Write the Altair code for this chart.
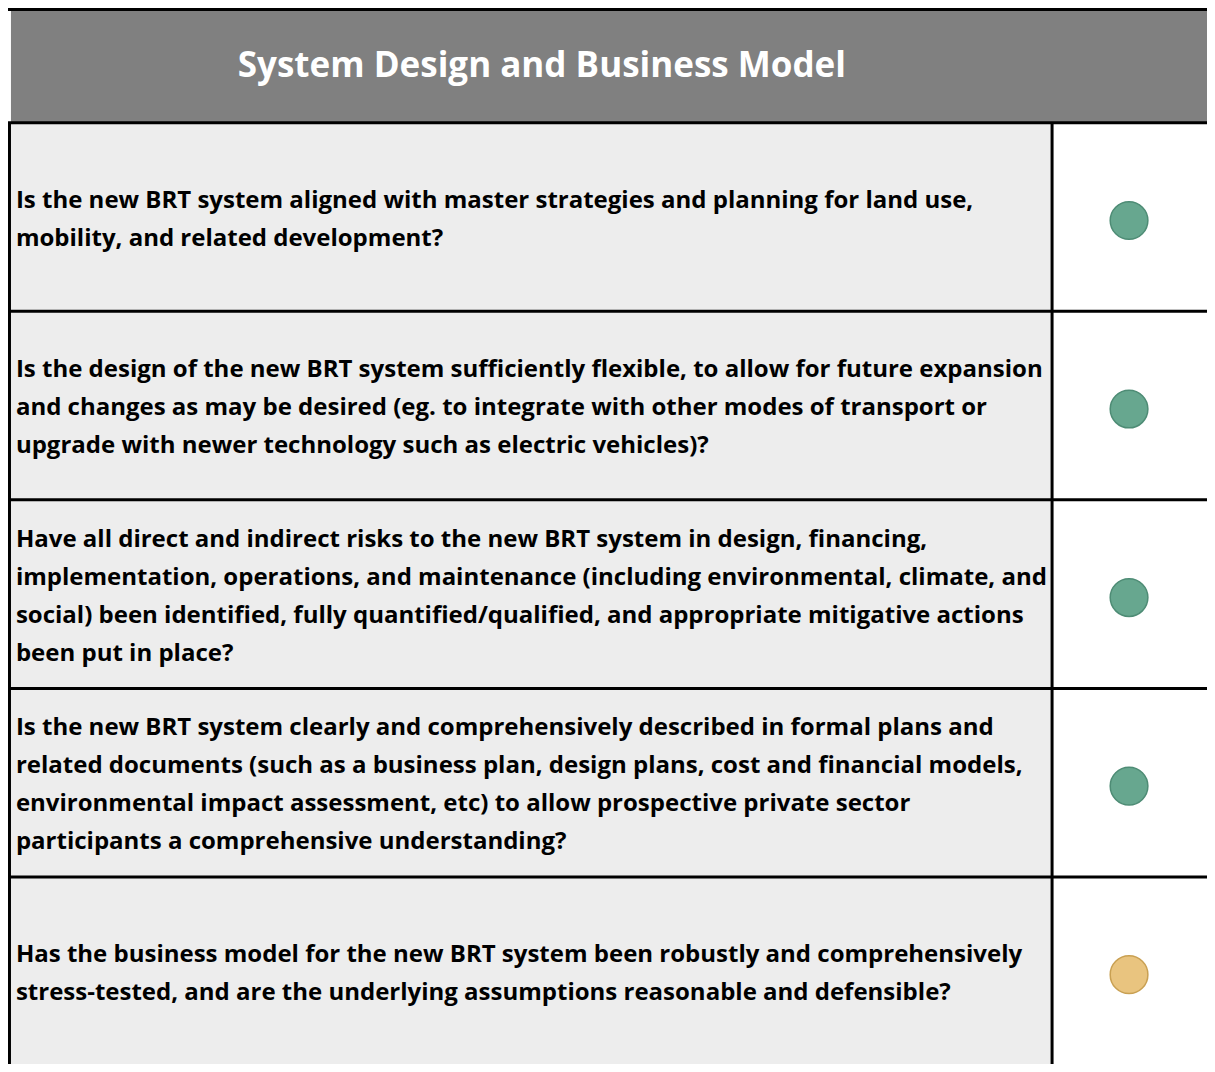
import altair as alt
import pandas as pd

title_text = "System Design and Business Model"
questions = [
    ["Is the new BRT system aligned with master strategies and planning for land use,",
     "mobility, and related development?"],
    ["Is the design of the new BRT system sufficiently flexible, to allow for future expansion",
     "and changes as may be desired (eg. to integrate with other modes of transport or",
     "upgrade with newer technology such as electric vehicles)?"],
    ["Have all direct and indirect risks to the new BRT system in design, financing,",
     "implementation, operations, and maintenance (including environmental, climate, and",
     "social) been identified, fully quantified/qualified, and appropriate mitigative actions",
     "been put in place?"],
    ["Is the new BRT system clearly and comprehensively described in formal plans and",
     "related documents (such as a business plan, design plans, cost and financial models,",
     "environmental impact assessment, etc) to allow prospective private sector",
     "participants a comprehensive understanding?"],
    ["Has the business model for the new BRT system been robustly and comprehensively",
     "stress-tested, and are the underlying assumptions reasonable and defensible?"],
]
statuses = ["green", "green", "green", "green", "amber"]

# layout (reference pixel space)
W, H = 1215, 1072
HEADER_H = 116.5
ROW_H = 191.4
COL_SPLIT = 1058
LINE_H = 38.5

rows = []
for i, (q, s) in enumerate(zip(questions, statuses)):
    y0 = HEADER_H + i * ROW_H
    y1 = y0 + ROW_H
    mid = (y0 + y1) / 2 + 2.5
    rows.append({"i": i, "q": q, "status": s, "y0": y0, "y1": y1,
                 "ym": mid - (len(q) - 1) * LINE_H / 2, "yc": (y0 + y1) / 2 + 3.5})
df = pd.DataFrame(rows)

xs = alt.Scale(domain=[0, W], range=[0, 1199], nice=False, zero=False)
ys = alt.Scale(domain=[0, H], range=[0, 1056], nice=False, zero=False)
noax = None

base = alt.Chart(df)

left_cells = base.mark_rect(color="#EDEDED").encode(
    x=alt.X("x0:Q", scale=xs, axis=noax), x2="x1:Q",
    y=alt.Y("y0:Q", scale=ys, axis=noax), y2="y1:Q",
).transform_calculate(x0="0", x1=str(COL_SPLIT))

right_cells = base.mark_rect(color="#FFFFFF").encode(
    x=alt.X("x0:Q", scale=xs, axis=noax), x2="x1:Q",
    y=alt.Y("y0:Q", scale=ys, axis=noax), y2="y1:Q",
).transform_calculate(x0=str(COL_SPLIT), x1=str(W))

header_df = pd.DataFrame({"t": [title_text]})
header = alt.Chart(header_df).mark_rect(color="#808080").encode(
    x=alt.X("x0:Q", scale=xs, axis=noax), x2="x1:Q",
    y=alt.Y("y0:Q", scale=ys, axis=noax), y2="y1:Q",
).transform_calculate(x0="3", x1=str(W), y0="2", y1=str(HEADER_H))

header_text = alt.Chart(header_df).mark_text(
    font="Open Sans", fontWeight="bold", fontSize=35, color="white",
    align="center", baseline="middle"
).encode(
    x=alt.X("x:Q", scale=xs, axis=noax),
    y=alt.Y("y:Q", scale=ys, axis=noax),
    text="t:N",
).transform_calculate(x="541", y="59")

# borders
hlines = base.mark_rule(color="black", strokeWidth=3).encode(
    x=alt.X("x0:Q", scale=xs, axis=noax), x2="x1:Q",
    y=alt.Y("y0:Q", scale=ys, axis=noax),
).transform_calculate(x0="0", x1=str(W))

top_line = alt.Chart(header_df).mark_rule(color="black", strokeWidth=3).encode(
    x=alt.X("x0:Q", scale=xs, axis=noax), x2="x1:Q",
    y=alt.Y("y0:Q", scale=ys, axis=noax),
).transform_calculate(x0="0", x1=str(W), y0="1.5")

vlines = alt.Chart(header_df).mark_rule(color="black", strokeWidth=3).encode(
    x=alt.X("x0:Q", scale=xs, axis=noax),
    y=alt.Y("y0:Q", scale=ys, axis=noax), y2="y1:Q",
).transform_calculate(x0="1.5", y0=str(HEADER_H), y1=str(H))

vsplit = alt.Chart(header_df).mark_rule(color="black", strokeWidth=3).encode(
    x=alt.X("x0:Q", scale=xs, axis=noax),
    y=alt.Y("y0:Q", scale=ys, axis=noax), y2="y1:Q",
).transform_calculate(x0=str(COL_SPLIT), y0=str(HEADER_H), y1=str(H))

qtext = base.mark_text(
    font="Open Sans", fontWeight="bold", fontSize=24, color="black",
    align="left", baseline="middle", lineHeight=38
).encode(
    x=alt.X("x:Q", scale=xs, axis=noax),
    y=alt.Y("ym:Q", scale=ys, axis=noax),
    text="q",
).transform_calculate(x="8")

dots = base.mark_point(filled=True, shape="circle", size=1420, strokeWidth=1.5, opacity=1).encode(
    x=alt.X("x:Q", scale=xs, axis=noax),
    y=alt.Y("yc:Q", scale=ys, axis=noax),
    fill=alt.Fill("status:N", scale=alt.Scale(domain=["green", "amber"], range=["#67A78F", "#E9C47F"]), legend=None),
    stroke=alt.Stroke("status:N", scale=alt.Scale(domain=["green", "amber"], range=["#4E8C75", "#C9A052"]), legend=None),
).transform_calculate(x="1136")

chart = alt.layer(
    header, left_cells, right_cells, header_text, qtext, dots,
    hlines, top_line, vlines, vsplit
).properties(width=1199, height=1056, padding=0, autosize="none").configure_view(stroke=None)

chart.save("out.html", embed_options={"renderer": "svg", "actions": False})
